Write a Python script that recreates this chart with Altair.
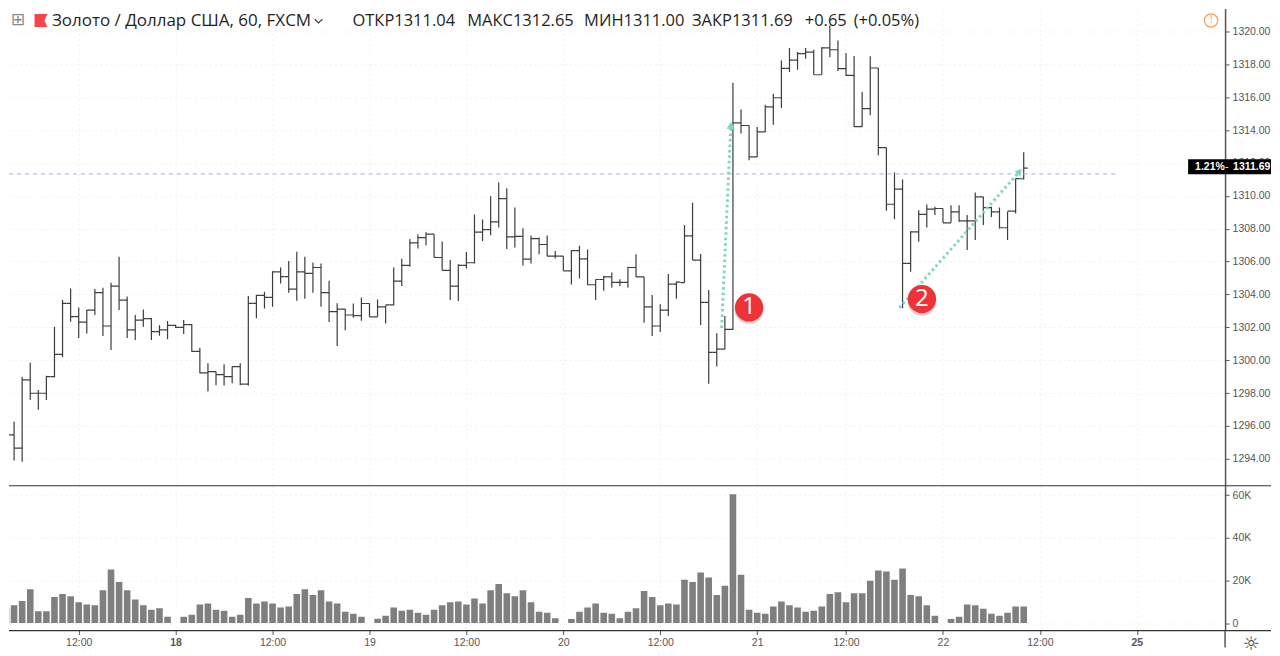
import altair as alt
import pandas as pd

slots = list(range(127))
highs = [1296.47,1296.27,1299.00,1299.85,1298.19,1299.06,1302.04,1303.66,1304.37,1303.21,1303.05,1304.33,1304.41,1304.71,1306.29,1303.88,1302.75,1303.09,1302.55,1302.12,1302.38,1302.16,1302.44,1302.20,1300.76,1299.81,1299.31,1299.75,1299.61,1299.81,1303.90,1303.96,1304.17,1305.42,1305.64,1306.03,1306.60,1306.29,1305.95,1305.89,1304.83,1303.46,
1303.11,1303.45,1303.82,1303.45,1303.70,1303.35,1305.64,1306.17,1307.38,1307.67,1307.79,1307.67,1307.22,1306.09,1305.84,1306.59,1308.86,1308.56,1309.98,1310.81,1310.46,1309.29,1308.03,1307.59,1307.46,1307.59,1306.65,1306.33,1306.69,1306.96,1306.74,1304.91,1305.14,1305.34,1304.93,1305.68,1306.45,1305.07,1303.96,1303.41,1305.24,1304.79,
1308.22,1309.58,1306.46,1304.27,1301.64,1302.69,1316.89,1315.25,1314.28,1314.19,1315.55,1316.22,1318.24,1318.99,1318.75,1319.00,1318.89,1319.05,1320.37,1319.46,1318.69,1318.51,1316.32,1318.49,1317.78,1312.94,1311.42,1310.99,1307.85,1309.13,1309.47,1309.33,1309.23,1309.43,1309.43,1308.83,1310.20,1309.94,1309.33,1309.29,1309.03,1311.05,1312.65]
lows = [1294.39,1293.90,1293.82,1297.58,1296.98,1297.58,1298.96,1300.18,1302.34,1301.35,1301.63,1302.75,1301.47,1300.62,1303.05,1301.35,1301.23,1302.04,1301.23,1301.49,1301.27,1301.96,1301.59,1300.52,1299.20,1298.09,1298.48,1298.46,1298.60,1298.48,1298.46,1302.55,1303.15,1303.25,1304.67,1304.11,1303.62,1303.74,1304.11,1303.25,1302.32,1300.87,
1301.83,1302.58,1302.40,1302.64,1302.64,1302.24,1303.35,1304.51,1305.68,1306.80,1307.00,1306.25,1305.48,1303.66,1303.60,1305.58,1305.89,1307.26,1307.61,1308.07,1306.76,1306.86,1305.77,1305.88,1306.45,1306.33,1306.19,1305.44,1304.61,1304.97,1304.57,1303.66,1304.22,1304.43,1304.51,1304.43,1305.07,1302.28,1301.47,1301.71,1302.69,1303.74,
1304.72,1306.09,1302.14,1298.56,1299.61,1300.67,1301.84,1313.79,1312.17,1312.37,1313.89,1314.33,1315.35,1317.53,1317.68,1318.34,1317.37,1317.37,1318.44,1317.59,1317.29,1314.19,1314.21,1314.90,1312.47,1309.09,1308.58,1303.16,1305.38,1307.21,1308.08,1308.83,1308.36,1308.36,1308.42,1306.70,1307.31,1308.22,1308.72,1308.02,1307.31,1308.93,1311.00]
opens = [1295.96,1295.46,1294.65,1298.80,1297.99,1297.99,1299.00,1300.36,1303.46,1302.65,1302.32,1303.05,1304.11,1302.08,1304.51,1303.66,1301.84,1302.44,1302.53,1301.74,1301.84,1302.12,1302.00,1302.16,1300.54,1299.23,1299.31,1299.12,1299.00,1299.61,1298.54,1303.46,1303.94,1303.82,1305.38,1305.08,1304.33,1305.38,1305.28,1305.64,1304.11,1302.95,
1303.11,1302.75,1302.71,1303.45,1302.64,1303.25,1303.37,1304.81,1305.77,1307.14,1307.46,1307.67,1306.25,1305.46,1304.51,1305.77,1305.93,1307.79,1307.95,1308.42,1309.83,1307.50,1307.53,1306.15,1307.40,1307.04,1306.33,1306.33,1305.44,1306.67,1306.17,1304.59,1304.91,1305.07,1304.73,1304.73,1305.64,1305.07,1303.25,1302.08,1303.05,1304.63,
1304.72,1307.57,1306.09,1303.52,1300.48,1300.67,1301.88,1314.44,1314.28,1312.37,1313.89,1315.41,1315.97,1317.76,1318.26,1318.65,1318.75,1317.37,1319.01,1318.89,1317.74,1317.33,1314.21,1315.31,1317.78,1312.94,1309.49,1310.41,1305.89,1307.81,1308.87,1309.19,1309.23,1308.36,1309.03,1308.48,1308.48,1309.94,1309.29,1309.03,1308.06,1309.07,1311.04]
closes = [1295.46,1294.65,1298.80,1297.99,1297.99,1299.00,1300.36,1303.46,1302.65,1302.32,1303.05,1304.11,1302.08,1304.51,1303.66,1301.84,1302.44,1302.53,1301.74,1301.84,1302.12,1302.00,1302.16,1300.54,1299.23,1299.31,1299.12,1299.00,1299.61,1298.54,1303.46,1303.94,1303.82,1305.38,1305.08,1304.33,1305.38,1305.28,1305.64,1304.11,1302.95,1303.11,
1302.75,1302.71,1303.45,1302.64,1303.25,1303.37,1304.81,1305.77,1307.14,1307.46,1307.67,1306.25,1305.46,1304.51,1305.77,1305.93,1307.79,1307.95,1308.42,1309.83,1307.50,1307.53,1306.15,1307.40,1307.04,1306.33,1306.33,1305.44,1306.67,1306.17,1304.59,1304.91,1305.07,1304.73,1304.73,1305.64,1305.07,1303.25,1302.08,1303.05,1304.63,1304.75,
1307.57,1306.09,1303.52,1300.48,1300.67,1301.88,1314.44,1314.28,1312.37,1313.89,1315.41,1315.97,1317.76,1318.26,1318.65,1318.75,1317.37,1319.01,1318.89,1317.74,1317.33,1314.21,1315.31,1317.78,1312.94,1309.49,1310.41,1305.89,1307.81,1308.87,1309.19,1309.23,1308.36,1309.03,1308.48,1308.48,1309.94,1309.29,1309.03,1308.06,1309.07,1311.05,1311.69]
volumes = [7300,8300,10300,15900,5500,5500,12200,13600,12600,9700,8700,8300,15400,25100,19300,15400,11100,8300,6200,6900,3000,0,3000,3900,8700,9200,6200,5800,3000,3900,11700,9200,10100,9200,7300,7800,13600,15900,13100,15400,10100,9200,5300,4400,3000,0,2000,3400,7300,5800,6200,4800,3900,6200,8300,9700,10100,8700,11500,9200,15400,18300,14000,12600,15400,9700,5300,4800,2300,0,1900,5300,7300,9200,4800,4400,2300,5300,6900,15000,12200,8300,9200,8700,20300,19300,23700,21400,13100,17500,60400,22600,6200,4800,4400,7800,10100,8300,7300,5300,5800,7800,13600,14500,9700,14000,14000,19800,24600,24200,20300,25600,13100,12600,8300,3400,0,1900,3000,8700,8300,6700,4400,3400,4800,7800,7800]

tick_slots = [9, 21, 33, 45, 57, 69, 81, 93, 104, 116, 128, 140]
tick_labels = ["12:00", "18", "12:00", "19", "12:00", "20", "12:00", "21", "12:00", "22", "12:00", "25"]
bold_slots = [21, 140]
price_ticks = [1294, 1296, 1298, 1300, 1302, 1304, 1306, 1308, 1310, 1312, 1314, 1316, 1318, 1320]
volume_ticks = [0, 20000, 40000, 60000]

x_domain = [0.37, 150.93]
price_domain = [1292.36, 1321.40]
volume_domain = [-3510, 64400]
dashed_level = 1311.34
dashed_span = [0.37, 137.8]
arrow_one_slots = [88.6, 89.74]
arrow_one_prices = [1301.96, 1314.29]
arrow_two_slots = [110.6, 125.5]
arrow_two_prices = [1303.19, 1311.49]
badge_slots = [92.0, 113.4]
badge_prices = [1303.21, 1303.72]
badge_texts = ["1", "2"]

INK = "#3c3c3c"
GRID = "#f1f1f1"
AXIS = "#555555"
LABEL = "#555555"
TEAL = "#7fd6c4"
RED = "#ee3338"
UI_FONT = "Open Sans"
AX_FONT = "Liberation Sans"
RIGHT_EDGE = 1264

bars = pd.DataFrame({"i": slots, "open": opens, "high": highs, "low": lows, "close": closes, "volume": volumes})
bars["left"] = bars["i"] - 0.5
bars["right"] = bars["i"] + 0.5
one = alt.Data(values=[{"a": 1}])

label_map = "{" + ",".join(f"'{s}':'{t}'" for s, t in zip(tick_slots, tick_labels)) + "}"
bold_test = " || ".join(f"datum.value == {s}" for s in bold_slots)

xs = alt.Scale(domain=x_domain, nice=False, zero=False, padding=0)
ys_p = alt.Scale(domain=price_domain, nice=False, zero=False)
ys_v = alt.Scale(domain=volume_domain, nice=False, zero=False)

axis_x_top = alt.Axis(values=tick_slots, labels=False, ticks=False, domain=False, grid=True, gridColor=GRID,
                      gridDash=[2, 3], title=None)
axis_y_top = alt.Axis(orient="right", values=price_ticks, format=".2f", grid=True, gridColor=GRID, gridDash=[2, 3],
                      domainColor=AXIS, domainWidth=1.5, ticks=True, tickColor=AXIS, tickSize=4, labelColor=LABEL,
                      labelOverlap=False, labelFont=AX_FONT, labelFontSize=10.5, labelPadding=3, title=None)


def px_text(text, px, py, top=8, size=16.5, color="#1f1f1f", font=UI_FONT, align="left", weight="normal"):
    return alt.Chart(one).mark_text(text=text, align=align, baseline="middle", fontSize=size, color=color,
                                    font=font, fontWeight=weight).encode(
        x=alt.value(px - 8), y=alt.value(py - top))


def pq(field="i", yfield="p", **kw):
    return dict(x=alt.X(f"{field}:Q", scale=xs, axis=axis_x_top), y=alt.Y(f"{yfield}:Q", scale=ys_p, axis=axis_y_top), **kw)


stems = alt.Chart(bars).mark_rule(color=INK, strokeWidth=1.2, clip=True).encode(
    y2="low:Q", **pq("i", "high"))
open_ticks = alt.Chart(bars).mark_rule(color=INK, strokeWidth=1.2, clip=True).encode(
    x2="i:Q", **pq("left", "open"))
close_ticks = alt.Chart(bars).mark_rule(color=INK, strokeWidth=1.2, clip=True).encode(
    x2="right:Q", **pq("i", "close"))

dashed = alt.Chart(pd.DataFrame({"a": [dashed_span[0]], "b": [dashed_span[1]], "p": [dashed_level]})).mark_rule(
    color="#a9c6e3", strokeWidth=1.2, strokeDash=[4, 4], clip=True).encode(x2="b:Q", **pq("a", "p"))

arrows = pd.DataFrame({"i": arrow_one_slots + arrow_two_slots,
                       "p": arrow_one_prices + arrow_two_prices,
                       "g": ["a", "a", "b", "b"]})
arrow_lines = alt.Chart(arrows).mark_line(color=TEAL, strokeWidth=3, strokeDash=[2.5, 3], clip=True).encode(
    detail="g:N", **pq())
head_one = alt.Chart(pd.DataFrame({"i": arrow_one_slots[1:], "p": arrow_one_prices[1:]})).mark_point(
    shape="triangle-up", filled=True, opacity=1, color=TEAL, size=70, angle=3).encode(**pq())
head_two = alt.Chart(pd.DataFrame({"i": arrow_two_slots[1:], "p": arrow_two_prices[1:]})).mark_point(
    shape="triangle-up", filled=True, opacity=1, color=TEAL, size=60, angle=41).encode(**pq())

badges = pd.DataFrame({"i": badge_slots, "p": badge_prices, "t": badge_texts})
badge_shadow = alt.Chart(badges).mark_circle(color="#000000", opacity=0.18, size=860).encode(
    yOffset=alt.value(2), **pq())
badge_disc = alt.Chart(badges).mark_circle(color=RED, opacity=1, size=800).encode(**pq())
badge_text = alt.Chart(badges).mark_text(color="white", fontSize=24, font=UI_FONT, baseline="middle", align="center").encode(
    text="t:N", **pq())

price_box = alt.Chart(one).mark_rect(color="black").encode(
    x=alt.value(1189 - 8), x2=alt.value(RIGHT_EDGE), y=alt.value(159 - 8), y2=alt.value(174 - 8))

plus_box = px_text("\u229e", 17, 20, size=17, color="#8a8a8a", font="DejaVu Sans", align="center")
flag = alt.Chart(one).mark_point(shape="M-1,-1 L1,-1 L0.55,0 L1,1 L-1,1 Z", filled=True, opacity=1, color="#f4454a", size=165).encode(
    x=alt.value(40 - 8), y=alt.value(20 - 8))
chevron = alt.Chart(one).mark_point(shape="M-1,-0.5 L0,0.5 L1,-0.5", filled=False, opacity=1, color="#333333", size=60, strokeWidth=1.1).encode(
    x=alt.value(318 - 8), y=alt.value(20.5 - 8))
alert_ring = alt.Chart(one).mark_point(shape="circle", filled=False, opacity=1, color="#f5a05a", size=177, strokeWidth=1.3).encode(
    x=alt.value(1212 - 8), y=alt.value(20 - 8))

top = alt.layer(
    stems, open_ticks, close_ticks, dashed, arrow_lines, head_one, head_two,
    badge_shadow, badge_disc, badge_text, price_box,
    px_text("1.21%", 1196, 166.5, size=10.5, color="white", font=AX_FONT, weight="bold"),
    px_text("-", 1226, 166.5, size=10.5, color="white", font=AX_FONT),
    px_text("1311.69", 1234, 166.5, size=10.5, color="white", font=AX_FONT, weight="bold"),
    plus_box, flag, chevron,
    px_text("Золото / Доллар США, 60, FXCM", 51, 20.5, size=17),
    px_text("ОТКР1311.04", 352, 20.5),
    px_text("МАКС1312.65", 467, 20.5),
    px_text("МИН1311.00", 584, 20.5),
    px_text("ЗАКР1311.69", 692, 20.5),
    px_text("+0.65", 805, 20.5),
    px_text("(+0.05%)", 854, 20.5),
    alert_ring,
    px_text("!", 1212, 20, size=11, color="#f5a05a", align="center"),
).properties(width=1218, height=478)

axis_x_bottom = alt.Axis(values=tick_slots, grid=True, gridColor=GRID, gridDash=[2, 3], domain=False, tickColor=AXIS,
                         tickSize=4, labelColor=LABEL, labelFont=AX_FONT, labelFontSize=10.5, labelPadding=3,
                         labelExpr=label_map + "[datum.value]",
                         labelFontWeight={"condition": {"test": bold_test, "value": "bold"}, "value": "normal"},
                         title=None)
axis_y_bottom = alt.Axis(orient="right", values=volume_ticks, grid=True, gridColor=GRID, gridDash=[2, 3],
                         domainColor=AXIS, domainWidth=1.5, tickColor=AXIS, tickSize=4, labelColor=LABEL,
                         labelFont=AX_FONT, labelFontSize=10.5, labelPadding=3,
                         labelExpr="datum.value == 0 ? '0' : (datum.value / 1000) + 'K'", title=None)

volume_bars = alt.Chart(bars).mark_bar(color="#7f7f7f", size=6.6, clip=True).encode(
    x=alt.X("i:Q", scale=xs, axis=axis_x_bottom),
    y=alt.Y("volume:Q", scale=ys_v, axis=axis_y_bottom, stack=None))
pane_line = alt.Chart(one).mark_rule(color="#333333", strokeWidth=1.2).encode(
    x=alt.value(0), x2=alt.value(RIGHT_EDGE), y=alt.value(0))
base_line = alt.Chart(one).mark_rule(color="#333333", strokeWidth=1.2).encode(
    x=alt.value(0), x2=alt.value(RIGHT_EDGE), y=alt.value(145))
axis_tail = alt.Chart(one).mark_rule(color=AXIS, strokeWidth=1.5).encode(
    x=alt.value(1218), y=alt.value(145), y2=alt.value(162))
gear = px_text("\u263c", 1252, 645, top=486, size=19, color="#444444", font="DejaVu Sans", align="center")

bottom = alt.layer(volume_bars, pane_line, base_line, axis_tail, gear).properties(width=1218, height=145)

chart = alt.vconcat(top, bottom, spacing=0, bounds="flush").properties(padding=0, background="white").configure_view(stroke=None)
chart.save("out.html", embed_options={"renderer": "svg", "actions": False})
